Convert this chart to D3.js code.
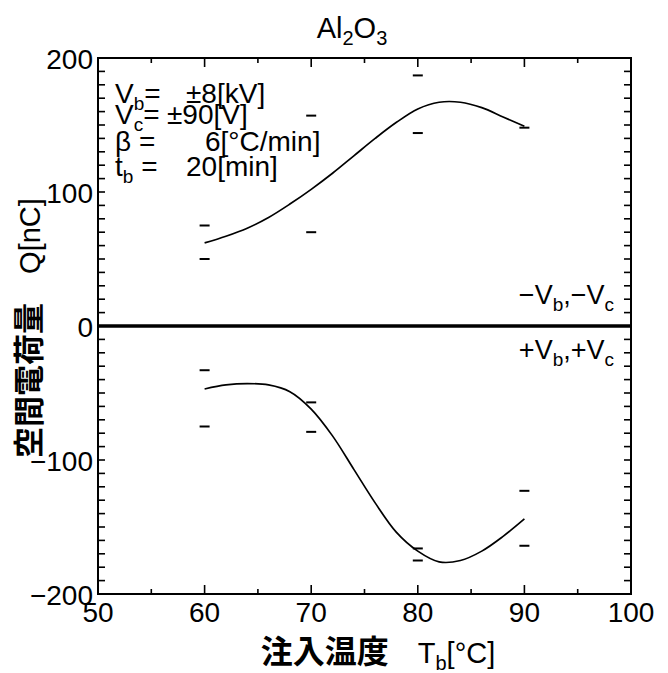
<!DOCTYPE html>
<html>
<head>
<meta charset="utf-8">
<script src="https://cdn.jsdelivr.net/npm/d3@7"></script>
<style>
  body { margin: 0; background: #fff; }
  svg { font-family: "Liberation Sans", Arial, sans-serif; }
  .cjk { font-family: "Noto Sans CJK JP", sans-serif; font-weight: bold; }
</style>
</head>
<body>
<script>
const temps = [60, 62, 64, 66, 68, 70, 72, 74, 76, 78, 80, 82, 84, 86, 88, 90];
// -Vb,-Vc branch (upper curve)
const negCharge = [62, 67, 73, 81, 91, 102, 114, 127, 140, 152, 162, 167, 167, 163, 156, 149];
// +Vb,+Vc branch (lower curve)
const posCharge = [-47, -44, -43, -44, -49, -62, -82, -107, -132, -154, -168, -176, -175, -168, -157, -144];
// short scatter marks [temperature, charge]
const negMarks = [[60, 75], [60, 50], [70, 157], [70, 70], [80, 187], [80, 144], [90, 148]];
const posMarks = [[60, -33], [60, -75], [70, -57], [70, -79], [80, -166], [80, -175], [90, -123], [90, -164]];
const xTicks = [50, 60, 70, 80, 90, 100];
const yTicks = [-200, -100, 0, 100, 200];

const width = 668, height = 673;
const margin = { left: 98, right: 37, top: 58, bottom: 79 };

const svg = d3.select("body").append("svg")
  .attr("width", width)
  .attr("height", height);

const x = d3.scaleLinear().domain([50, 100]).range([margin.left, width - margin.right]);
const y = d3.scaleLinear().domain([-200, 200]).range([height - margin.bottom, margin.top]);

const x0 = x(50), x1 = x(100), y0 = y(-200), y1 = y(200);

// inward ticks on all four sides
const g = svg.append("g").attr("stroke", "#000").attr("stroke-width", 1.6);
d3.range(50, 101, 5).forEach(t => {
  const len = t % 10 === 0 ? 9 : 5;
  g.append("line").attr("x1", x(t)).attr("x2", x(t)).attr("y1", y0).attr("y2", y0 - len);
  g.append("line").attr("x1", x(t)).attr("x2", x(t)).attr("y1", y1).attr("y2", y1 + len);
});
d3.range(-200, 201, 10).forEach(v => {
  const len = 7;
  g.append("line").attr("x1", x0).attr("x2", x0 + len).attr("y1", y(v)).attr("y2", y(v));
  g.append("line").attr("x1", x1).attr("x2", x1 - len).attr("y1", y(v)).attr("y2", y(v));
});

svg.append("rect")
  .attr("x", x0).attr("y", y1)
  .attr("width", x1 - x0).attr("height", y0 - y1)
  .attr("fill", "none").attr("stroke", "#000").attr("stroke-width", 2);

// zero line
svg.append("line")
  .attr("x1", x0).attr("x2", x1)
  .attr("y1", y(0)).attr("y2", y(0))
  .attr("stroke", "#000").attr("stroke-width", 3.5);

// tick labels
svg.append("g").selectAll("text").data(xTicks).join("text")
  .attr("x", x).attr("y", y0 + 28)
  .attr("text-anchor", "middle").attr("font-size", 28)
  .text(d => d);

svg.append("g").selectAll("text").data(yTicks).join("text")
  .attr("x", x0 - 5).attr("y", d => y(d) + 11)
  .attr("text-anchor", "end").attr("font-size", 28)
  .text(d => d < 0 ? "\u2212" + Math.abs(d) : d);

// curves
const line = d3.line().x(d => x(d[0])).y(d => y(d[1])).curve(d3.curveCatmullRom);
[negCharge, posCharge].forEach(series => {
  svg.append("path")
    .attr("d", line(temps.map((t, i) => [t, series[i]])))
    .attr("fill", "none").attr("stroke", "#000").attr("stroke-width", 1.7);
});

// marks
svg.append("g").selectAll("line").data(negMarks.concat(posMarks)).join("line")
  .attr("x1", d => x(d[0]) - 5).attr("x2", d => x(d[0]) + 5)
  .attr("y1", d => y(d[1])).attr("y2", d => y(d[1]))
  .attr("stroke", "#000").attr("stroke-width", 2);

// title
const title = svg.append("text").attr("x", 352).attr("y", 38)
  .attr("text-anchor", "middle").attr("font-size", 29);
title.append("tspan").text("Al");
title.append("tspan").attr("font-size", 20).attr("dy", 7).text("2");
title.append("tspan").attr("dy", -7).text("O");
title.append("tspan").attr("font-size", 20).attr("dy", 7).text("3");

// condition block
const params = [
  { name: "V", sub: "b", eq: "=", val: "\u00b18[kV]", vx: 186, yb: 103 },
  { name: "V", sub: "c", eq: "=", val: "\u00b190[V]", vx: 167, yb: 124 },
  { name: "\u03b2", sub: "", eq: " =", val: "6[\u00b0C/min]", vx: 205, yb: 151 },
  { name: "t", sub: "b", eq: " =", val: "20[min]", vx: 186, yb: 176 }
];
params.forEach(p => {
  const t = svg.append("text").attr("x", 115).attr("y", p.yb).attr("font-size", 28);
  t.append("tspan").text(p.name);
  if (p.sub) t.append("tspan").attr("font-size", 19).attr("dy", 7).text(p.sub);
  t.append("tspan").attr("dy", p.sub ? -7 : 0).text(p.eq);
  svg.append("text").attr("x", p.vx).attr("y", p.yb).attr("font-size", 28).text(p.val);
});

// branch labels
function branch(sign, yb) {
  const t = svg.append("text").attr("x", 614).attr("y", yb)
    .attr("text-anchor", "end").attr("font-size", 27);
  t.append("tspan").text(sign + "V");
  t.append("tspan").attr("font-size", 19).attr("dy", 7).text("b");
  t.append("tspan").attr("dy", -7).text("," + sign + "V");
  t.append("tspan").attr("font-size", 19).attr("dy", 7).text("c");
}
branch("\u2212", 304);
branch("+", 359);

// x axis label
const xl = svg.append("text").attr("x", 378).attr("y", 663)
  .attr("text-anchor", "middle").attr("font-size", 29);
xl.append("tspan").attr("class", "cjk").attr("font-size", 32).text("注入温度");
xl.append("tspan").text("\u2003T");
xl.append("tspan").attr("font-size", 20).attr("dy", 7).text("b");
xl.append("tspan").attr("dy", -7).text("[\u00b0C]");

// y axis label
const yl = svg.append("text")
  .attr("transform", `translate(40,${y(0) + 2}) rotate(-90)`)
  .attr("text-anchor", "middle").attr("font-size", 29);
yl.append("tspan").attr("class", "cjk").attr("font-size", 31).text("空間電荷量");
yl.append("tspan").text("\u2003Q[nC]");
</script>
</body>
</html>
